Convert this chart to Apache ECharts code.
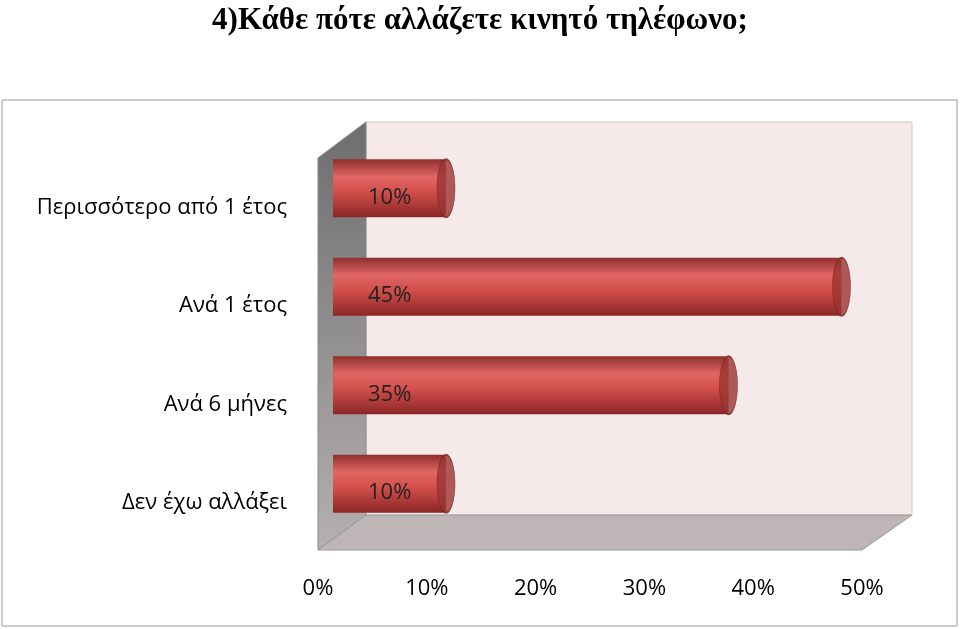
<!DOCTYPE html>
<html><head><meta charset="utf-8">
<script src="https://cdn.jsdelivr.net/npm/echarts@6/dist/echarts.min.js"></script>
<style>html,body{margin:0;padding:0;background:#fff}#c{width:960px;height:629px}</style>
</head><body><div id="c"></div>
<script>
const categories = ['Περισσότερο από 1 έτος','Ανά 1 έτος','Ανά 6 μήνες','Δεν έχω αλλάξει'];
const values = [10,45,35,10];
const xTicks = [0,10,20,30,40,50];
const chart = echarts.init(document.getElementById('c'));
const font = '"Open Sans", "Noto Sans", sans-serif';
chart.setOption({
  animation:false,
  title:{text:'4)Κάθε πότε αλλάζετε κινητό τηλέφωνο;',left:'center',top:0,
    textStyle:{fontFamily:'"Liberation Serif", serif',fontWeight:'bold',fontSize:31,color:'#000'}},
  graphic:[
    {type:'rect',shape:{x:2,y:100,width:955,height:526},style:{fill:'none',stroke:'#999',lineWidth:1},z:-10},
    {type:'rect',shape:{x:366,y:122,width:546,height:393},style:{fill:'#f6e9e9',stroke:'#ccc'},z:-9},
    {type:'polygon',shape:{points:[[318,158],[366,122],[366,515],[318,550]]},
      style:{fill:new echarts.graphic.LinearGradient(0,0,0,1,[{offset:0,color:'#6e6e6e'},{offset:1,color:'#b5b0b0'}]),stroke:'#888'},z:-9},
    {type:'polygon',shape:{points:[[318,550],[366,515],[912,515],[862,550]]},
      style:{fill:'#beb6b6',stroke:'#999'},z:-9}
  ],
  grid:[{left:318,right:98,top:139,bottom:96},{left:333,right:62,top:139,bottom:96}],
  xAxis:[{type:'value',gridIndex:0,min:0,max:50,interval:10,
    axisLabel:{formatter:v=>xTicks.includes(v)?v+'%':'',margin:45,fontSize:22,color:'#000',fontFamily:font},
    splitLine:{show:false},axisLine:{show:false},axisTick:{show:false}},
    {type:'value',gridIndex:1,min:0,max:50,show:false,splitLine:{show:false}}],
  yAxis:[{type:'category',gridIndex:0,data:categories,inverse:true,
    axisLabel:{margin:31,fontSize:22,color:'#000',fontFamily:font,verticalAlign:'top',padding:[8,0,0,0]},
    axisLine:{show:false},axisTick:{show:false}},
    {type:'category',gridIndex:1,data:categories,inverse:true,show:false}],
  series:[
    {type:'bar',xAxisIndex:1,yAxisIndex:1,data:values,barWidth:58,
      itemStyle:{color:new echarts.graphic.LinearGradient(0,0,0,1,[
        {offset:0,color:'#8e2f2d'},{offset:0.3,color:'#e06664'},{offset:0.55,color:'#d4504d'},{offset:1,color:'#8a2725'}]),
        borderRadius:[0,4,4,0]},
      label:{show:true,position:'insideLeft',offset:[30,9],formatter:p=>p.value+'%',fontSize:22,color:'#222',fontFamily:font},
      z:2},
    {type:'scatter',xAxisIndex:1,yAxisIndex:1,data:values.map((v,i)=>[v,i]),symbol:'circle',symbolSize:[18,58],
      itemStyle:{color:'#9a3432',borderColor:'#7a2624',borderWidth:1},z:3}
  ]
});
</script></body></html>
